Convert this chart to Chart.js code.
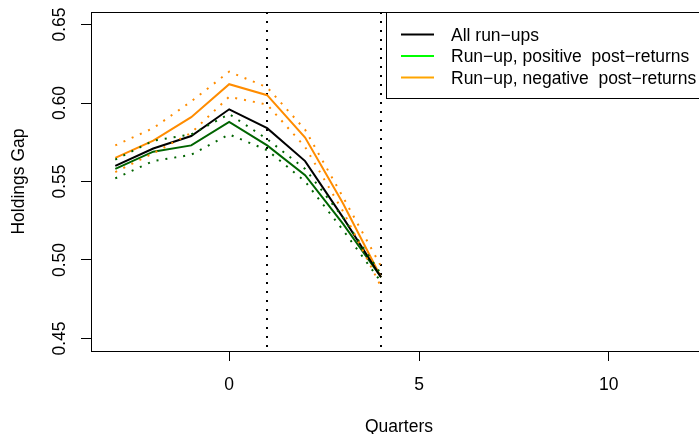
<!DOCTYPE html>
<html>
<head>
<meta charset="utf-8">
<script src="https://cdn.jsdelivr.net/npm/chart.js@4/dist/chart.umd.min.js"></script>
<style>
  html, body { margin: 0; padding: 0; background: #fff; overflow: hidden; }
  #wrap { width: 767px; height: 434px; }
</style>
</head>
<body>
<div id="wrap"><canvas id="chart" width="767" height="434"></canvas></div>
<script>
// data
const quarters = [-3, -2, -1, 0, 1, 2, 3, 4];
const allRunups = [0.560, 0.571, 0.579, 0.596, 0.584, 0.563, 0.527, 0.489];
const posRunups = [0.558, 0.569, 0.573, 0.588, 0.573, 0.554, 0.523, 0.489];
const negRunups = [0.565, 0.576, 0.591, 0.612, 0.605, 0.578, 0.536, 0.489];
const posUpper = [0.564, 0.576, 0.580, 0.593, 0.577, 0.558, 0.527, 0.491];
const posLower = [0.552, 0.563, 0.567, 0.580, 0.570, 0.550, 0.519, 0.486];
const negUpper = [0.573, 0.584, 0.601, 0.620, 0.610, 0.583, 0.540, 0.496];
const negLower = [0.556, 0.568, 0.581, 0.604, 0.599, 0.572, 0.531, 0.483];
const vLines = [1, 4];
const xTicks = [0, 5, 10];
const yTicks = [0.45, 0.50, 0.55, 0.60, 0.65];
const legendLabels = ['All run\u2212ups', 'Run\u2212up, positive  post\u2212returns', 'Run\u2212up, negative  post\u2212returns'];
const legendColors = ['#000000', '#00ff00', '#ffa500'];

const FONT = '17.5px "Liberation Sans", Arial, sans-serif';

function pts(ys) {
  return quarters.map((q, i) => ({ x: q, y: ys[i] }));
}

function solid(label, ys, color) {
  return { label: label, data: pts(ys), borderColor: color, borderWidth: 2, pointRadius: 0, fill: false, tension: 0 };
}
function dotted(ys, color) {
  return { label: '', data: pts(ys), borderColor: color, borderWidth: 2, borderDash: [2, 7], pointRadius: 0, fill: false, tension: 0 };
}

// R style extras: box, rotated y labels, titles, dotted verticals, legend
const rDecor = {
  id: 'rDecor',
  beforeDatasetsDraw(chart) {
    const ctx = chart.ctx;
    const x = chart.scales.x;
    const a = chart.chartArea;
    ctx.save();
    ctx.strokeStyle = '#000';
    ctx.lineWidth = 2;
    ctx.setLineDash([2, 7]);
    vLines.forEach(v => {
      const px = Math.round(x.getPixelForValue(v));
      ctx.beginPath();
      ctx.moveTo(px, a.top);
      ctx.lineTo(px, a.bottom);
      ctx.stroke();
    });
    ctx.restore();
  },
  afterDraw(chart) {
    const ctx = chart.ctx;
    const x = chart.scales.x, y = chart.scales.y;
    const a = chart.chartArea;
    ctx.save();
    ctx.strokeStyle = '#000';
    ctx.lineWidth = 1;
    ctx.strokeRect(a.left + 0.5, a.top + 0.5, a.right - a.left, a.bottom - a.top);

    ctx.fillStyle = '#000';
    ctx.font = FONT;
    ctx.textAlign = 'center';
    ctx.textBaseline = 'alphabetic';
    yTicks.forEach(v => {
      const py = y.getPixelForValue(v);
      ctx.save();
      ctx.translate(65, py);
      ctx.rotate(-Math.PI / 2);
      ctx.fillText(v.toFixed(2), 0, 0);
      ctx.restore();
    });
    xTicks.forEach(v => {
      ctx.fillText(String(v), x.getPixelForValue(v), 390);
    });
    ctx.save();
    ctx.translate(24, (a.top + a.bottom) / 2);
    ctx.rotate(-Math.PI / 2);
    ctx.fillText('Holdings Gap', 0, 0);
    ctx.restore();
    ctx.fillText('Quarters', 399, 432);

    // legend
    const lx = 386, ly = 12, lh = 86;
    ctx.fillStyle = '#fff';
    ctx.fillRect(lx, ly, 400, lh);
    ctx.strokeStyle = '#000';
    ctx.strokeRect(lx + 0.5, ly + 0.5, 400, lh);
    ctx.textAlign = 'left';
    legendLabels.forEach((t, i) => {
      const ty = 34.5 + i * 21.5;
      ctx.strokeStyle = legendColors[i];
      ctx.lineWidth = 2;
      ctx.beginPath();
      ctx.moveTo(401, ty);
      ctx.lineTo(434, ty);
      ctx.stroke();
      ctx.fillStyle = '#000';
      ctx.fillText(t, 451, ty + 6.3);
    });
    ctx.restore();
  }
};

new Chart(document.getElementById('chart'), {
  type: 'line',
  data: {
    datasets: [
      dotted(negUpper, '#ff8c00'),
      dotted(negLower, '#ff8c00'),
      dotted(posUpper, '#006400'),
      dotted(posLower, '#006400'),
      solid(legendLabels[0], allRunups, '#000000'),
      solid(legendLabels[1], posRunups, '#006400'),
      solid(legendLabels[2], negRunups, '#ff8c00')
    ]
  },
  options: {
    responsive: false,
    devicePixelRatio: 1,
    animation: false,
    layout: { padding: { left: 0, top: 12, right: 20, bottom: 0 } },
    plugins: { legend: { display: false }, tooltip: { enabled: false } },
    scales: {
      x: {
        type: 'linear',
        min: -3.64,
        max: 13.64,
        afterBuildTicks: s => { s.ticks = xTicks.map(v => ({ value: v })); },
        afterFit: s => { s.height = 83; },
        border: { display: false },
        grid: { drawOnChartArea: false, drawTicks: true, tickLength: 10, color: '#000', lineWidth: 1 },
        ticks: { display: false }
      },
      y: {
        type: 'linear',
        min: 0.442,
        max: 0.658,
        afterBuildTicks: s => { s.ticks = yTicks.map(v => ({ value: v })); },
        afterFit: s => { s.width = 91; },
        border: { display: false },
        grid: { drawOnChartArea: false, drawTicks: true, tickLength: 10, color: '#000', lineWidth: 1 },
        ticks: { display: false }
      }
    }
  },
  plugins: [rDecor]
});
</script>
</body>
</html>
